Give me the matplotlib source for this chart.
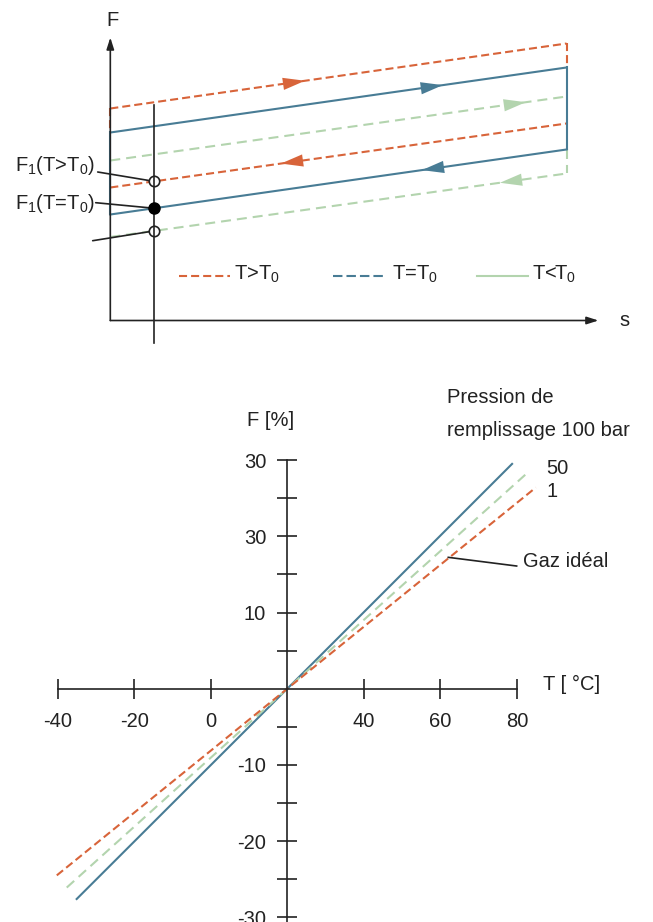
import numpy as np
import matplotlib
matplotlib.use('Agg')
import matplotlib.pyplot as plt

plt.rcParams['font.family'] = ['Liberation Sans', 'DejaVu Sans']
plt.rcParams['mathtext.fontset'] = 'custom'
plt.rcParams['mathtext.rm'] = 'Liberation Sans'
plt.rcParams['mathtext.it'] = 'Liberation Sans'
plt.rcParams['lines.scale_dashes'] = False

ORANGE = '#d8643a'
BLUE = '#487c95'
GREEN = '#b3d4ae'
INK = '#222222'
FS = 14.5

# top schematic: force F along the stroke s (0 = start, 1 = end), arbitrary units
s_ends = [0.0, 1.0]
F_hot_up = [21.2, 27.7]
F_hot_down = [13.3, 19.7]
F_ref_up = [18.8, 25.3]
F_ref_down = [10.6, 17.1]
F_cold_up = [16.0, 22.4]
F_cold_down = [8.35, 14.7]
s_read = 0.096
tips_up = [0.427, 0.729, 0.911]      # hot, ref, cold
tips_down = [0.374, 0.683, 0.854]

# bottom chart: F [%] vs T [°C]
T_ideal = [-40.2, 20, 84.9]
F_ideal = [-24.5, 0, 26.4]
T_50 = [-37.6, 20, 82.2]
F_50 = [-26.1, 0, 28.1]
T_100 = [-35.2, 20, 78.9]
F_100 = [-27.7, 0, 29.6]
x_ticks = [-40, -20, 0, 40, 60, 80]
x_labels = ['-40', '-20', '0', '40', '60', '80']
y_ticks = [-30, -25, -20, -15, -10, -5, 5, 10, 15, 20, 25, 30]
y_labels = ['-30', '', '-20', '', '-10', '', '', '10', '', '30', '', '30']

W, H = 653, 922
fig = plt.figure(figsize=(W / 100, H / 100), dpi=100)


def px_box(x0, y0, x1, y1):
    return [x0 / W, 1 - y1 / H, (x1 - x0) / W, (y1 - y0) / H]


DASH_O = (5.8, 2.9)
DASH_G = (7.2, 4.3)
DASH_B = (6.8, 2.9)
LW = 1.5

# ---------------- top: schematic ----------------
ax1 = fig.add_axes(px_box(0, 0, W, 360))
ax1.set_xlim(-0.2418, 1.1896)
ax1.set_ylim(-3.95, 32.05)
ax1.axis('off')

ax1.plot(s_ends, F_hot_up, color=ORANGE, lw=LW, dashes=DASH_O)
ax1.plot(s_ends, F_hot_down, color=ORANGE, lw=LW, dashes=DASH_O)
ax1.plot([0, 0], [F_hot_up[0], F_ref_up[0]], color=ORANGE, lw=LW, dashes=DASH_O)
ax1.plot([1, 1], [F_hot_up[1], F_ref_up[1]], color=ORANGE, lw=LW, dashes=DASH_O)

ax1.plot(s_ends, F_cold_up, color=GREEN, lw=LW, dashes=DASH_G)
ax1.plot(s_ends, F_cold_down, color=GREEN, lw=LW, dashes=DASH_G)
ax1.plot([1, 1], [F_ref_down[1], F_cold_down[1]], color=GREEN, lw=LW, dashes=DASH_G)

ax1.plot(s_ends, F_ref_up, color=BLUE, lw=LW)
ax1.plot(s_ends, F_ref_down, color=BLUE, lw=LW)
ax1.plot([0, 0], [F_ref_up[0], F_ref_down[0]], color=BLUE, lw=LW)
ax1.plot([1, 1], [F_ref_up[1], F_ref_down[1]], color=BLUE, lw=LW)


def head(s_tip, F_ends, direction, color):
    back = s_tip - 0.05 * direction
    ax1.annotate('', xy=(s_tip, np.interp(s_tip, s_ends, F_ends)),
                 xytext=(back, np.interp(back, s_ends, F_ends)),
                 arrowprops=dict(arrowstyle='-|>,head_length=0.8,head_width=0.22',
                                 mutation_scale=20, color=color, lw=0,
                                 shrinkA=0, shrinkB=0))


for tip, F, c in zip(tips_up, [F_hot_up, F_ref_up, F_cold_up], [ORANGE, BLUE, GREEN]):
    head(tip, F, 1, c)
for tip, F, c in zip(tips_down, [F_hot_down, F_ref_down, F_cold_down], [ORANGE, BLUE, GREEN]):
    head(tip, F, -1, c)

# axes with arrows
axis_kw = dict(arrowstyle='-|>,head_length=0.5,head_width=0.16', mutation_scale=14,
               color=INK, lw=1.2, shrinkA=0, shrinkB=0)
ax1.annotate('', xy=(0, 28.3), xytext=(0, 0), arrowprops=axis_kw)
ax1.annotate('', xy=(1.07, 0), xytext=(0, 0), arrowprops=axis_kw)
ax1.text(0.005, 30.05, 'F', fontsize=FS, ha='center', va='center', color=INK)
ax1.text(1.127, -0.05, 's', fontsize=FS, ha='center', va='center', color=INK)

# reading line and points
ax1.plot([s_read, s_read], [21.55, -2.25], color=INK, lw=1.2, zorder=4)
F_pts = [np.interp(s_read, s_ends, F) for F in (F_hot_down, F_ref_down, F_cold_down)]
ax1.plot([s_read, s_read], [F_pts[0], F_pts[2]], 'o', ms=7.5, mfc='white', mec=INK,
         mew=1.2, ls='none', zorder=3)
ax1.plot([s_read], [F_pts[1]], 'o', ms=8, color='black', zorder=5)

leader_starts = [(-0.0276, 14.85), (-0.032, 11.78), (-0.0386, 7.98)]
for (sx, fy), fp in zip(leader_starts, F_pts):
    ax1.annotate('', xy=(s_read, fp), xytext=(sx, fy),
                 arrowprops=dict(arrowstyle='-', color=INK, lw=1.2, shrinkA=0, shrinkB=3.8))

ax1.text(-0.2089, 14.98, 'F$_1$(T>T$_0$)', fontsize=FS, ha='left', va='baseline', color=INK)
ax1.text(-0.2089, 11.12, 'F$_1$(T=T$_0$)', fontsize=FS, ha='left', va='baseline', color=INK)

# legend
leg_y = 4.45
ax1.plot([0.1506, 0.2624], [leg_y, leg_y], color=ORANGE, lw=LW, dashes=DASH_O)
ax1.plot([0.4888, 0.6043], [leg_y, leg_y], color=BLUE, lw=LW, dashes=DASH_B)
ax1.plot([0.8032, 0.9163], [leg_y, leg_y], color=GREEN, lw=LW)
ax1.text(0.271, 4.05, 'T>T$_0$', fontsize=FS, va='baseline', color=INK)
ax1.text(0.6175, 4.05, 'T=T$_0$', fontsize=FS, va='baseline', color=INK)
ax1.text(0.925, 4.05, 'T<T$_0$', fontsize=FS, va='baseline', color=INK)

# ---------------- bottom: F vs T ----------------
ax2 = fig.add_axes(px_box(0, 440, W, H))
ax2.set_xlim(-55.03, 115.51)
ax2.set_ylim(-30.62, 32.64)
ax2.patch.set_alpha(0)
for side in ('top', 'right'):
    ax2.spines[side].set_visible(False)
ax2.spines['left'].set_position(('data', 20))
ax2.spines['bottom'].set_position(('data', 0))
ax2.spines['left'].set_bounds(-31, 30)
ax2.spines['bottom'].set_bounds(-40, 80)
for side in ('left', 'bottom'):
    ax2.spines[side].set_color(INK)
    ax2.spines[side].set_linewidth(1.2)

ax2.set_xticks(x_ticks, x_labels)
ax2.set_yticks(y_ticks, y_labels)
ax2.tick_params(direction='inout', length=13.7, width=1.2, color=INK,
                labelsize=FS, labelcolor=INK)
ax2.tick_params(axis='x', pad=10.0)
ax2.tick_params(axis='y', pad=8.3)

ax2.plot(T_100, F_100, color=BLUE, lw=LW, solid_capstyle='butt')
ax2.plot(T_50, F_50, color=GREEN, lw=LW, dashes=DASH_G)
ax2.plot(T_ideal, F_ideal, color=ORANGE, lw=LW, dashes=DASH_O)

ax2.text(61.73, 38.28, 'Pression de', fontsize=FS, va='center', color=INK)
ax2.text(61.73, 33.87, 'remplissage 100 bar', fontsize=FS, va='center', color=INK)
ax2.text(87.75, 28.96, '50', fontsize=FS, va='center', color=INK)
ax2.text(87.75, 25.85, '1', fontsize=FS, va='center', color=INK)
ax2.text(81.55, 16.67, 'Gaz idéal', fontsize=FS, va='center', color=INK)
ax2.plot([62.05, 79.9], [17.24, 16.1], color=INK, lw=1.2)
ax2.text(15.74, 35.26, 'F [%]', fontsize=FS, ha='center', va='center', color=INK)
ax2.text(86.78, 0.49, 'T [ °C]', fontsize=FS, va='center', color=INK)

fig.savefig('out.png', dpi=100)
